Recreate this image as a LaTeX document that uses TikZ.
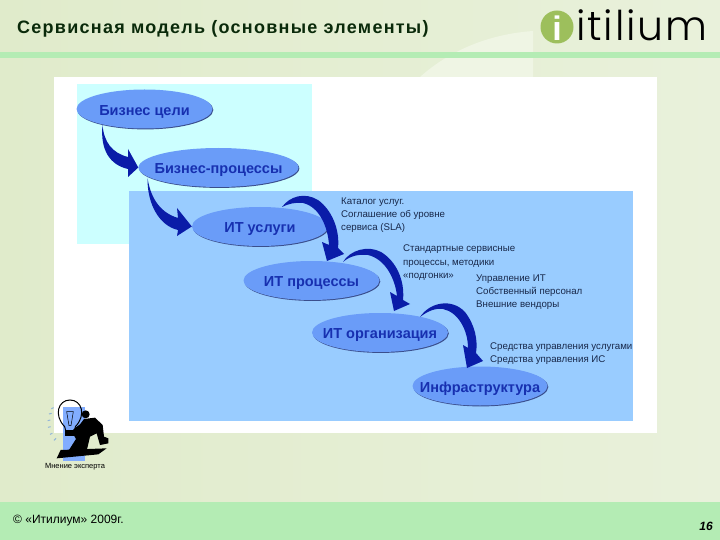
\documentclass[tikz,border=0pt]{standalone}
\usepackage{fontspec}
\setmainfont{Liberation Sans}
\newfontfamily\logofont{Poppins Light}
\usetikzlibrary{shapes.geometric,calc}
\definecolor{bandgreen}{HTML}{B4ECB4}
\definecolor{paleL}{HTML}{E0EBCB}
\definecolor{paleR}{HTML}{E9F1DB}
\definecolor{palelight}{HTML}{EFF5E4}
\definecolor{cyanbox}{HTML}{CCFFFF}
\definecolor{bluebox}{HTML}{99CCFF}
\definecolor{ellfill}{HTML}{6A9CF8}
\definecolor{ellshadow}{HTML}{3A4E8C}
\definecolor{elltext}{HTML}{1730B0}
\definecolor{arrowblue}{HTML}{0A1CA8}
\definecolor{notetext}{HTML}{18284A}
\definecolor{titlegreen}{HTML}{0A2A0A}
\definecolor{logogreen}{HTML}{9DBF5C}
\tikzset{
  goal/.style={ellipse,fill=ellfill,draw=none,inner xsep=-16pt,inner ysep=-6pt,minimum width=136pt,minimum height=39pt,text=elltext,
    text height=15.5pt,text depth=3pt,font=\fontsize{14.5}{16}\selectfont\bfseries},
  shadowed/.style={preaction={fill=ellshadow,transform canvas={shift={(0.8pt,-0.9pt)}}}},
  bigarrow/.style={fill=arrowblue,draw=none},
  note/.style={anchor=north west,align=left,inner sep=0pt,text=notetext,font=\fontsize{9.7}{13.2}\selectfont},
}
\begin{document}
\begin{tikzpicture}[x=1pt,y=-1pt]
\useasboundingbox (0,0) rectangle (720,540);
% background
\shade[left color=paleL,right color=paleR] (0,0) rectangle (720,540);
\fill[palelight] (420,77) .. controls (450,50) and (490,34) .. (533,31) -- (533,77) -- cycle;
\fill[bandgreen] (0,52) rectangle (720,58);
\fill[bandgreen] (0,502) rectangle (720,540);
% title, logo and footer
\node[anchor=west,inner sep=0pt,text=titlegreen,font=\fontsize{18}{20}\selectfont\bfseries\addfontfeature{LetterSpace=7}] (title) at (17,29) {Сервисная модель (основные элементы)};
\fill[logogreen] (557,27) circle (16.5);
\node[inner sep=0pt,text=white,font=\fontsize{34}{34}\selectfont\bfseries] (logoi) at (557,28) {i};
\node[anchor=west,inner sep=0pt,font=\logofont\fontsize{41}{41}\selectfont\addfontfeature{LetterSpace=4.5}] (logotext) at (576,25) {itilium};
\node[anchor=west,inner sep=0pt,font=\fontsize{12}{14}\selectfont] (copy) at (13,521) {© «Итилиум» 2009г.};
\node[inner sep=0pt,font=\fontsize{12}{14}\selectfont\bfseries\itshape] (pageno) at (706,526) {16};
% panels
\fill[white] (54,77) rectangle (657,433);
\fill[cyanbox] (77,84) rectangle (312,244);
\fill[bluebox] (129,191) rectangle (633,421);
% ellipses
\node[goal,shadowed] (bc) at (144.5,109) {Бизнес цели};
\node[goal,shadowed,minimum width=160pt] (bp) at (218.5,167.5) {Бизнес-процессы};
\node[goal,shadowed] (its) at (260,226.5) {ИТ услуги};
\node[goal,shadowed] (itp) at (311.5,280.5) {ИТ процессы};
\node[goal,shadowed] (ito) at (380,332.5) {ИТ организация};
\node[goal,shadowed,minimum width=135pt] (inf) at (480,386) {Инфраструктура};
% connectors
\fill[bigarrow] ($(bc.center)+(-42,16)$) .. controls (104,142) and (112,153) .. (128,157) -- (128,149) -- (bp.west) -- (128,177) -- (128,169) .. controls (110,165) and (100,150) .. cycle;
\fill[bigarrow] ($(bp.center)+(-71,10)$) .. controls (150,195) and (158,212) .. (178,218) -- (177,208) -- (its.west) -- (177,236) -- (178,230) .. controls (160,226) and (147,205) .. cycle;
\fill[bigarrow] ($(its.center)+(22,-19.5)$) .. controls (290,196) and (305,192) .. (318,200) .. controls (332,210) and (340,230) .. (338,248) -- (344,254) -- ($(itp.center)+(15.5,-19.5)$) -- (322,242) -- (329,245) .. controls (328,228) and (320,207) .. (303,203) .. controls (295,202) and (288,204) .. cycle;
\fill[bigarrow] ($(itp.center)+(31.5,-18.5)$) .. controls (350,250) and (368,245) .. (381,252) .. controls (396,261) and (405,280) .. (403,300) -- (410,304) -- ($(ito.center)+(14,-21.5)$) -- (390,292) -- (397,296) .. controls (395,278) and (385,259) .. (368,255) .. controls (358,254) and (350,256) .. cycle;
\fill[bigarrow] ($(ito.center)+(40,-15.5)$) .. controls (430,302) and (452,298) .. (465,312) .. controls (475,325) and (478,340) .. (476,353) -- (483,361) -- ($(inf.center)+(-13,-18)$) -- (463,345) -- (468,348) .. controls (468,330) and (458,312) .. (443,309) .. controls (435,308) and (428,311) .. cycle;
% notes
\node[note] (n1) at (341,197.5) {Каталог услуг.\\Соглашение об уровне\\сервиса  (SLA)};
\node[note] (n2) at (403,245) {Стандартные сервисные\\процессы, методики\\«подгонки»};
\node[note] (n3) at (476,274.5) {Управление ИТ\\Собственный персонал\\Внешние вендоры};
\node[note] (n4) at (490,342.5) {Средства управления услугами\\Средства управления ИС};
% expert icon
\fill[bluebox!85!blue] (63,407) rectangle (85,461);
\begin{scope}[shift={(40,395)},scale=1/3]
  \foreach \a/\b/\c/\d in {41/38/34/41,35/55/27/57,31/75/23/77,32/95/24/97,37/115/30/118,48/130/42/136}
    \draw[bluebox!70!gray,line width=1pt] (\a,\b) -- (\c,\d);
  \def\bulbpath{(74,95) .. controls (40,60) and (55,15) .. (90,15) .. controls (125,15) and (140,60) .. (106,95) -- (104,110) -- (78,110) -- cycle}
  \fill[white] \bulbpath;
  \begin{scope}
    \clip \bulbpath;
    \fill[bluebox!85!blue] (69,36) rectangle (135,120);
  \end{scope}
  \draw[black,line width=1pt] \bulbpath;
  \draw[black,line width=.5pt] (80,50) -- (100,50) -- (93,92) -- (87,92) -- cycle;
  \fill[black] (76,106) rectangle (104,122);
  \fill[black] (137,58) circle (12);
  \fill[black] (100,103) -- (120,88) -- (132,72) -- (165,68) -- (188,90) -- (192,125) -- (205,130) -- (205,145) -- (180,150) -- (170,115) -- (150,125) -- (140,168) -- (85,168) -- (108,132) -- (100,118) -- cycle;
  \fill[black] (50,190) -- (62,165) -- (200,160) -- (175,178) -- cycle;
\end{scope}
\node[inner sep=0pt,font=\fontsize{7.5}{9}\selectfont] (expert) at (75,466.5) {Мнение эксперта};
\end{tikzpicture}
\end{document}
